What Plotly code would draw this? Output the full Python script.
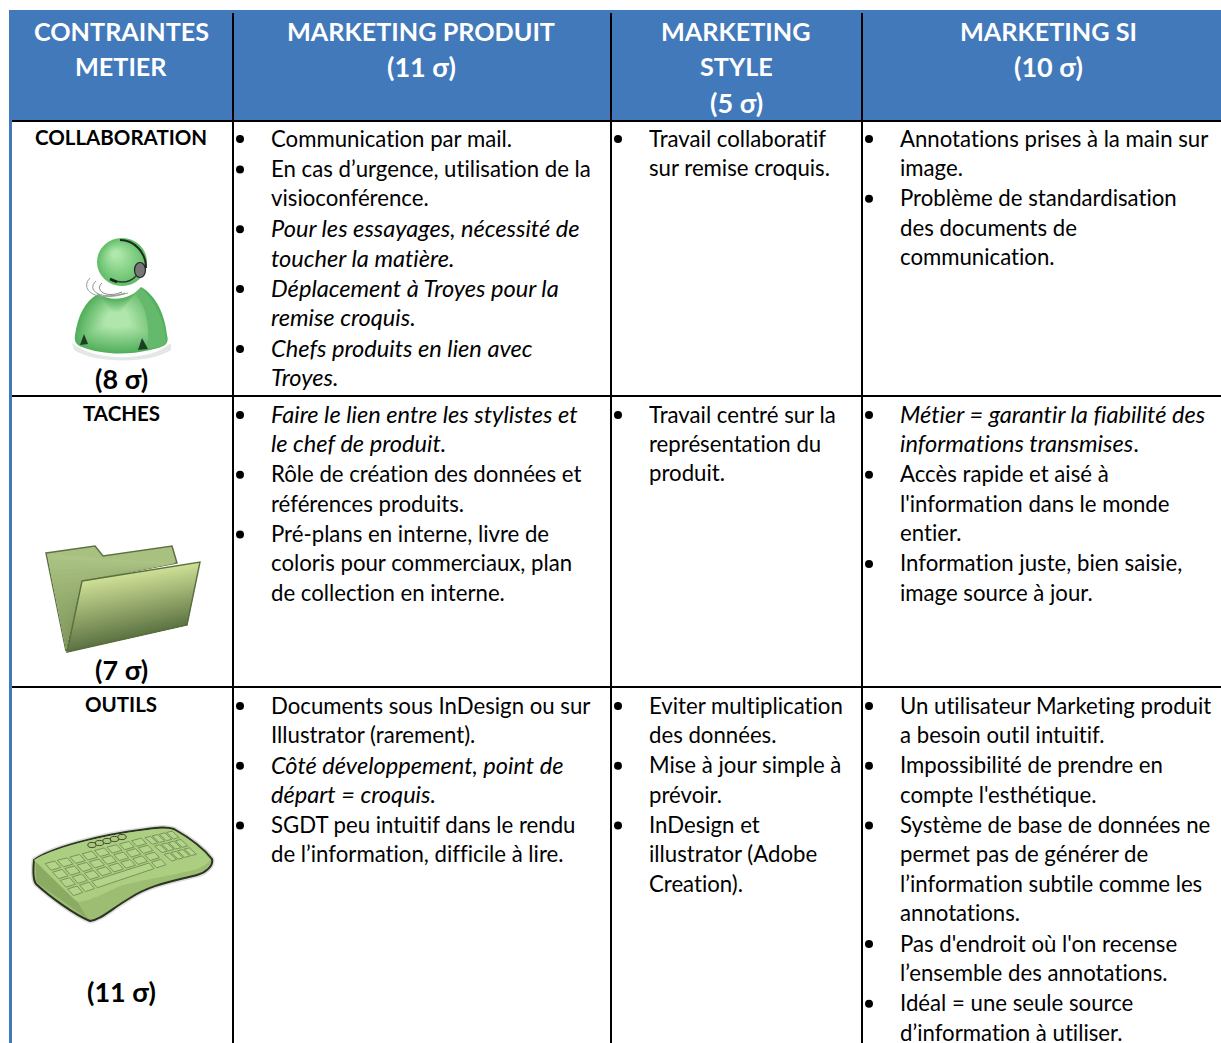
import plotly.graph_objects as go

FONT = "Lato"
BODY = 22.2
ITALIC = 23.6
LABEL = 20.5
HEAD = 25.2
SCORE = 27
BLUE = "#4279bb"

headers = [["CONTRAINTES", "METIER"], ["MARKETING PRODUIT", "(11 σ)"], ["MARKETING", "STYLE", "(5 σ)"], ["MARKETING SI", "(10 σ)"]]
row_names = ["COLLABORATION", "TACHES", "OUTILS"]
row_scores = ["(8 σ)", "(7 σ)", "(11 σ)"]

# each bullet is a list of wrapped lines
produit = [
    [["Communication par mail."],
     ["En cas d’urgence, utilisation de la", "visioconférence."],
     ["<i>Pour les essayages, nécessité de</i>", "<i>toucher la matière.</i>"],
     ["<i>Déplacement à Troyes pour la</i>", "<i>remise croquis.</i>"],
     ["<i>Chefs produits en lien avec</i>", "<i>Troyes.</i>"]],
    [["<i>Faire le lien entre les stylistes et</i>", "<i>le chef de produit.</i>"],
     ["Rôle de création des données et", "références produits."],
     ["Pré-plans en interne, livre de", "coloris pour commerciaux, plan", "de collection en interne."]],
    [["Documents sous InDesign ou sur", "Illustrator (rarement)."],
     ["<i>Côté développement, point de</i>", "<i>départ = croquis.</i>"],
     ["SGDT peu intuitif dans le rendu", "de l’information, difficile à lire."]],
]
style = [
    [["Travail collaboratif", "sur remise croquis."]],
    [["Travail centré sur la", "représentation du", "produit."]],
    [["Eviter multiplication", "des données."],
     ["Mise à jour simple à", "prévoir."],
     ["InDesign et", "illustrator (Adobe", "Creation)."]],
]
si = [
    [["Annotations prises à la main sur", "image."],
     ["Problème de standardisation", "des documents de", "communication."]],
    [["<i>Métier = garantir la fiabilité des</i>", "<i>informations transmises</i>."],
     ["Accès rapide et aisé à", "l'information dans le monde", "entier."],
     ["Information juste, bien saisie,", "image source à jour."]],
    [["Un utilisateur Marketing produit", "a besoin outil intuitif."],
     ["Impossibilité de prendre en", "compte l'esthétique."],
     ["Système de base de données ne", "permet pas de générer de", "l’information subtile comme les", "annotations."],
     ["Pas d'endroit où l'on recense", "l’ensemble des annotations."],
     ["Idéal = une seule source", "d’information à utiliser."]],
]
columns = [produit, style, si]

# layout geometry (pixels)
col_lines = [233, 611, 862]
row_lines = [121, 396, 687]
bullet_x = [240, 618, 869]
text_x = [271, 649, 900]
row_first_y = [139, 415, 706]
label_y = [137, 413, 704]
score_y = [378, 669, 991]
head_cx = [121, 421, 736, 1048]
head_y = [31, 66, 102]
WRAP, STEP = 29.3, 30.5

shapes, ann = [], []

def poly(pts, fill, line=None, w=1):
    p = "M" + " L".join(f"{x:.1f},{y:.1f}" for x, y in pts) + " Z"
    shapes.append(dict(type="path", path=p, fillcolor=fill, line=dict(color=line or fill, width=w if line else 0), layer="below"))

def curve(start, segs, close=True):
    p = f"M{start[0]:.1f},{start[1]:.1f} " + " ".join(
        "C" + " ".join(f"{x:.1f},{y:.1f}" for x, y in s) for s in segs)
    return p + (" Z" if close else "")

def path(p, fill="rgba(0,0,0,0)", line=None, w=1):
    shapes.append(dict(type="path", path=p, fillcolor=fill, line=dict(color=line or "rgba(0,0,0,0)", width=w if line else 0), layer="below"))

def scaled(start, segs, c, k):
    f = lambda q: (c[0] + (q[0] - c[0]) * k, c[1] + (q[1] - c[1]) * k)
    return curve(f(start), [[f(q) for q in s] for s in segs])

def lerp(a, b, t):
    return (a[0] + (b[0] - a[0]) * t, a[1] + (b[1] - a[1]) * t)

def mix(c1, c2, t):
    return "rgb(%d,%d,%d)" % tuple(round(c1[i] + (c2[i] - c1[i]) * t) for i in range(3))

def grad_quad(tl, tr, br, bl, c1, c2, n=28):
    for i in range(n):
        a = i / n
        poly([lerp(tl, bl, a), lerp(tr, br, a), br, bl], mix(c1, c2, (i + .5) / n))

def circle(cx, cy, rx, ry, fill, line=None, w=1):
    shapes.append(dict(type="circle", x0=cx - rx, x1=cx + rx, y0=cy - ry, y1=cy + ry, fillcolor=fill,
                       line=dict(color=line or fill, width=w if line else 0), layer="below"))

def text(x, y, s, size=BODY, color="#000", bold=False, anchor="left"):
    ann.append(dict(x=x, y=y, text=f"<b>{s}</b>" if bold else s, showarrow=False, xanchor=anchor, yanchor="middle",
                    xref="x", yref="y", font=dict(family=FONT, size=size, color=color), align=anchor,
                    borderpad=0, borderwidth=0))

# table background
shapes.append(dict(type="rect", x0=9, x1=1221, y0=10, y1=121, fillcolor=BLUE, line_width=0, layer="below"))
shapes.append(dict(type="rect", x0=9, x1=12, y0=10, y1=1043, fillcolor=BLUE, line_width=0, layer="below"))

# person icon
path("M72,343 C95,362 150,362 171,343 L171,350 C150,364 95,364 74,350 Z", fill="#e4e8e4")
b0 = (75, 335)
bs = [[(78, 316), (84, 302), (98, 294)], [(112, 302), (130, 300), (141, 287)],
      [(157, 296), (165, 316), (167, 335)], [(170, 346), (162, 347), (150, 350)],
      [(125, 356), (100, 354), (82, 347)], [(76, 345), (74, 341), (75, 335)]]
for i in range(14):
    path(scaled(b0, bs, (116, 318), 1 - i * .055), fill=mix((84, 176, 92), (176, 230, 172), i / 13))
path("M137,296 C148,310 150,332 147,349 C155,348 163,347 166,342 C165,322 156,302 141,288 Z", fill="#65b96c")
path("M80,345 L84,334 L88,344 Z", fill="#1f3d25")
path("M138,350 L142,338 L148,349 Z", fill="#1f3d25")
for i in range(14):
    k = 1 - i * .065
    circle(122 - i * .5, 262 - i * .6, 25 * k, 24 * k, mix((98, 190, 104), (176, 232, 172), i / 13))
path("M120,240 C134,240 146,252 146,268", line="#1c2a1f", w=2)
circle(140, 270, 5.5, 7.5, "#777", "#222", 1.2)
path("M136,276 C130,283 120,283 111,280", line="#2c3a2e", w=1.4)
path("M110,279 L117,282", line="#15251a", w=2.5)
for s, c1, c2, e, col in [((90, 278), (80, 288), (92, 304), (128, 293), "#95a097"),
                          ((96, 281), (86, 290), (100, 301), (125, 293), "#8a968c"),
                          ((102, 283), (94, 290), (106, 299), (122, 292), "#7f8c82")]:
    path(curve(s, [[c1, c2, e]], close=False), line=col, w=1)

# folder icon
poly([(46, 553), (95, 546), (103, 556), (172, 546), (177, 563), (82, 581), (66, 651)], "#a9c180", "#5d7142", 1.5)
grad_quad((47, 554), (176, 563), (82, 581), (66, 649), (172, 196, 132), (128, 150, 92), n=18)
grad_quad((82, 581), (200, 562), (187, 625), (67, 652), (207, 224, 150), (92, 114, 66))
path("M82,581 L200,562 L187,625 L67,652 Z", line="#5a6f40", w=1.4)

# keyboard icon
k0 = (34, 860)
ks = [[(50, 848), (100, 835), (140, 830)], [(155, 828), (165, 826), (174, 829)],
      [(190, 838), (205, 850), (212, 859)], [(214, 866), (205, 873), (197, 875)],
      [(170, 882), (150, 885), (130, 898)], [(110, 910), (100, 920), (90, 921)],
      [(75, 915), (50, 897), (36, 884)], [(33, 880), (33, 870), (34, 860)]]
path(curve(k0, ks), fill="#d8d8d8", line="#dcdcdc", w=5)
path(curve(k0, ks), fill="#9dbd72", line="#2a3420", w=2)
path(curve((34, 860), [[(50, 849), (100, 836), (140, 831)], [(155, 829), (165, 828), (173, 830)],
                       [(190, 839), (204, 851), (210, 860)], [(205, 867), (195, 870), (190, 871)],
                       [(165, 877), (140, 880), (120, 886)], [(105, 893), (90, 901), (79, 902)],
                       [(65, 895), (45, 878), (34, 860)]]), fill="#acce80")
poly([(36, 862), (78, 903), (88, 919), (36, 882)], "#8cab62")

def keypad(tl, tr, br, bl, rows, cols, skip=None):
    def P(u, v):
        return lerp(lerp(tl, tr, u), lerp(bl, br, u), v)
    for r in range(rows):
        for c in range(cols):
            if skip and r == skip[0] and skip[1] <= c <= skip[2]:
                continue
            g = 0.11
            u0, u1, v0, v1 = (c + g) / cols, (c + 1 - g) / cols, (r + g) / rows, (r + 1 - g) / rows
            poly([P(u0, v0), P(u1, v0), P(u1, v1), P(u0, v1)], "#b4d48b", "#77955a", 1)
    if skip:
        r, a, b = skip
        g = 0.11
        poly([P((a + g) / cols, (r + g) / rows), P((b + 1 - g) / cols, (r + g) / rows),
              P((b + 1 - g) / cols, (r + 1 - g) / rows), P((a + g) / cols, (r + 1 - g) / rows)], "#b4d48b", "#77955a", 1)

keypad((43, 863), (142, 837), (168, 865), (73, 897), 4, 8, skip=(3, 2, 6))
keypad((143, 837), (172, 830), (198, 855), (172, 862), 3, 4)
for i in range(5):
    circle(92 + i * 7.5, 845 - i * 2, 4.2, 2.6, "#acc67f", "#3d4c2b", 1)

# grid lines
for x in col_lines:
    shapes.append(dict(type="line", x0=x, x1=x, y0=13, y1=1043, line=dict(color="#000", width=2), layer="above"))
for y in row_lines:
    shapes.append(dict(type="line", x0=12, x1=1221, y0=y, y1=y, line=dict(color="#000", width=2), layer="above"))

# headers
for cx, lines in zip(head_cx, headers):
    for y, s in zip(head_y, lines):
        text(cx, y, s, size=SCORE if s.startswith("(") else HEAD, color="#fff", bold=True, anchor="center")

# first column
for name, score, y1, y2 in zip(row_names, row_scores, label_y, score_y):
    text(121, y1, name, size=LABEL, bold=True, anchor="center")
    text(121, y2, score, size=SCORE, bold=True, anchor="center")

# body cells
bx, by = [], []
for col, bxv, tx in zip(columns, bullet_x, text_x):
    for cell, y0 in zip(col, row_first_y):
        y = y0
        for bi, bullet in enumerate(cell):
            if bi:
                y += STEP - WRAP
            bx.append(bxv)
            by.append(y)
            for s in bullet:
                text(tx, y - 1, s, size=ITALIC if s.startswith("<i>") else BODY)
                y += WRAP

fig = go.Figure(go.Scatter(x=bx, y=by, mode="markers", marker=dict(color="#000", size=8), hoverinfo="skip"))
fig.update_layout(
    width=1221, height=1043, margin=dict(l=0, r=0, t=0, b=0), autosize=False,
    paper_bgcolor="#fff", plot_bgcolor="#fff", showlegend=False,
    xaxis=dict(range=[0, 1221], visible=False, fixedrange=True),
    yaxis=dict(range=[1043, 0], visible=False, fixedrange=True),
    shapes=shapes, annotations=ann,
)
fig.write_html("out.html", config=dict(displayModeBar=False),
               post_script="document.body.style.margin='0';var s=document.createElement('style');"
                           "s.textContent='svg text{font-variant-ligatures:none !important;font-feature-settings:\"liga\" 0,\"clig\" 0 !important}';"
                           "document.head.appendChild(s);")
